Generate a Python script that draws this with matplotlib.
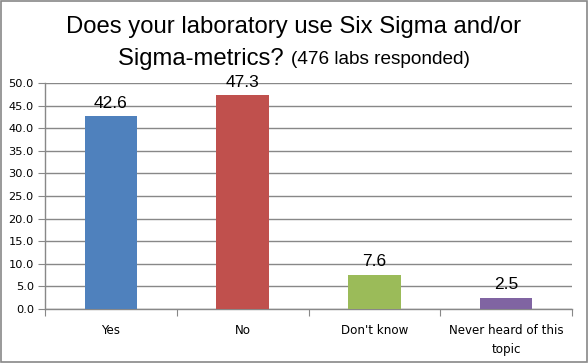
import matplotlib
matplotlib.use("Agg")
import matplotlib.pyplot as plt
from matplotlib.patches import Rectangle

categories = ["Yes", "No", "Don't know", "Never heard of this\ntopic"]
values = [42.6, 47.3, 7.6, 2.5]
colors = ["#4F81BD", "#C0504D", "#9BBB59", "#8064A2"]
yticks = [0, 5, 10, 15, 20, 25, 30, 35, 40, 45, 50]

fig = plt.figure(figsize=(5.88, 3.63), dpi=100)
fig.patch.set_facecolor("white")
fig.add_artist(Rectangle((0.0015, 0.0025), 0.997, 0.995, transform=fig.transFigure,
                         fill=False, edgecolor="#888888", linewidth=1.2))

ax = fig.add_axes([45/588, 54/363, 527/588, 226/363])
x = list(range(len(categories)))
bars = ax.bar(x, values, width=0.4, color=colors, zorder=3)
ax.set_xlim(-0.5, len(categories) - 0.5)
ax.set_ylim(0, 50)
ax.set_yticks(yticks)
ax.set_yticklabels([f"{v:.1f}" for v in yticks], fontsize=8.2, family="DejaVu Sans")
ax.yaxis.grid(True, color="#888888", linewidth=1.0, zorder=0)
ax.set_axisbelow(True)

# category boundaries as major ticks, labels at centers as minor ticks
ax.set_xticks([i - 0.5 for i in range(len(categories) + 1)])
ax.set_xticklabels([])
ax.set_xticks(x, minor=True)
ax.set_xticklabels(categories, minor=True, fontsize=8.6, family="DejaVu Sans",
                   linespacing=1.6)
ax.tick_params(axis="x", which="minor", length=0, pad=10.5)
ax.tick_params(axis="x", which="major", length=5, color="#888888", direction="out")
ax.tick_params(axis="y", length=5, color="#888888", direction="out", pad=3)

for s in ["top", "right"]:
    ax.spines[s].set_visible(False)
for s in ["left", "bottom"]:
    ax.spines[s].set_color("#888888")
    ax.spines[s].set_linewidth(1.0)

for xi, v in zip(x, values):
    ax.annotate(f"{v:.1f}", (xi, v), xytext=(0, 4), textcoords="offset points",
                ha="center", va="bottom", fontsize=12.5, family="Liberation Sans")

# Title
fig.text(0.5, 1 - 27/363, "Does your laboratory use Six Sigma and/or",
         ha="center", va="center", fontsize=17.2, family="Liberation Sans")
fig.canvas.draw()
r = fig.canvas.get_renderer()
t1 = fig.text(0, 1 - 59/363, "Sigma-metrics? ", ha="left", va="center",
              fontsize=17.2, family="Liberation Sans")
t2 = fig.text(0, 1 - 60/363, "(476 labs responded)", ha="left", va="center",
              fontsize=13.7, family="Liberation Sans")
w1 = t1.get_window_extent(r).width
w2 = t2.get_window_extent(r).width
W = fig.bbox.width
start = (W - (w1 + w2)) / 2
t1.set_x(start / W)
t2.set_x((start + w1) / W)

fig.savefig("out.png", dpi=100)
